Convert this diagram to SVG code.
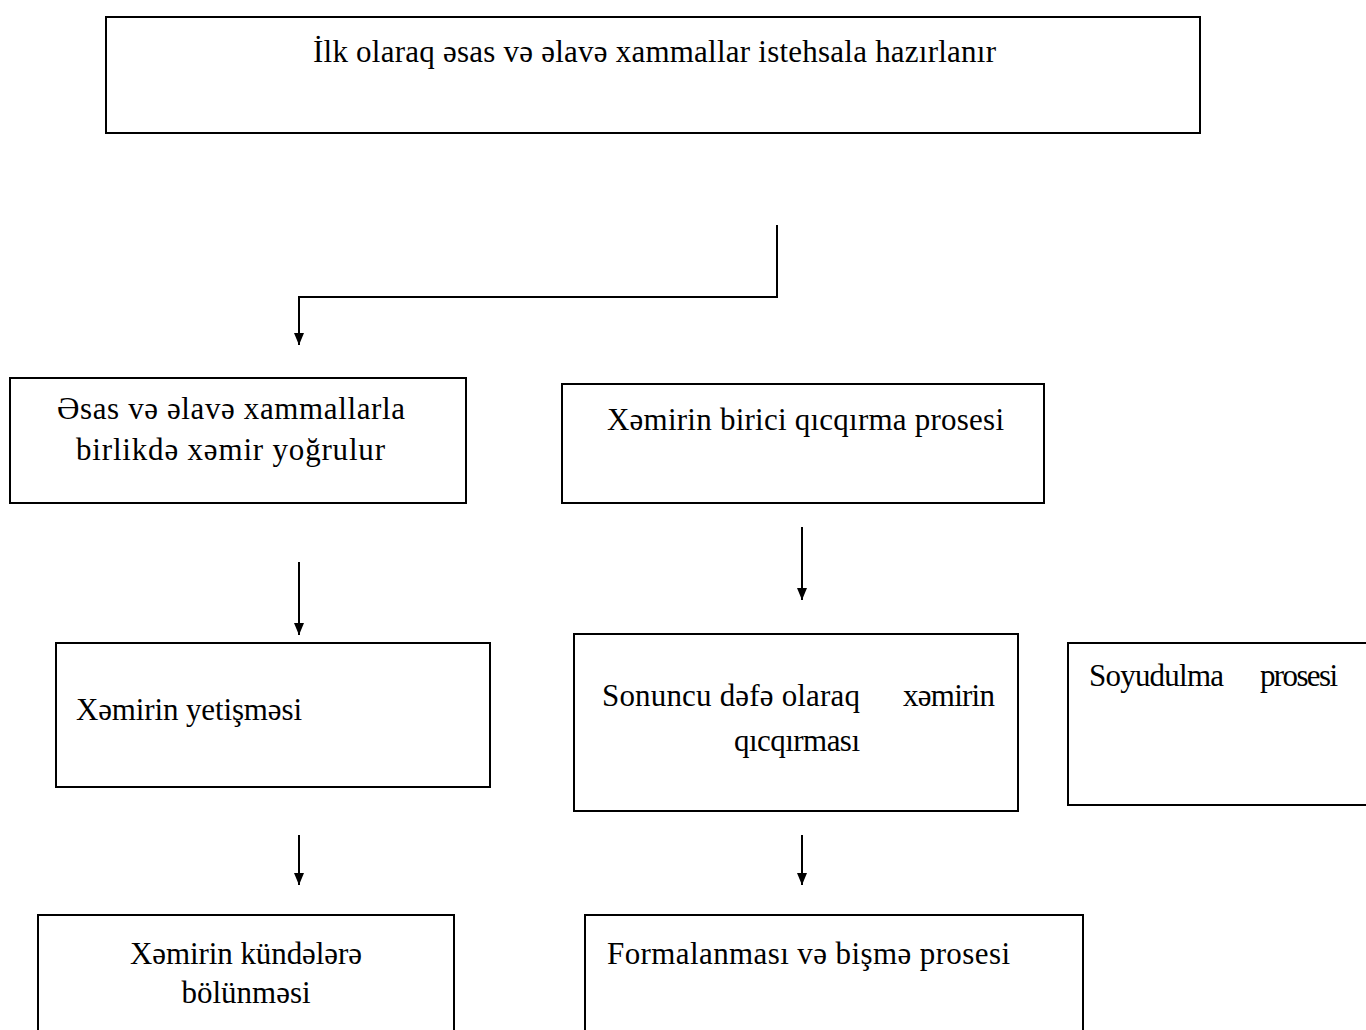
<svg xmlns="http://www.w3.org/2000/svg" width="1366" height="1030" viewBox="0 0 1366 1030">
<style>
.box{fill:#fff;stroke:#000;stroke-width:2}
.t{font-family:"Liberation Serif","Times New Roman",serif;font-size:31px;fill:#000}
.c{text-anchor:middle}
.con{fill:none;stroke:#000;stroke-width:2}
</style>
<defs>
<marker id="ah" viewBox="0 0 12 10" refX="12" refY="5" markerWidth="12" markerHeight="10" markerUnits="userSpaceOnUse" orient="auto">
<path d="M0,0 L12,5 L0,10 z" fill="#000"/>
</marker>
</defs>
<rect width="1366" height="1030" fill="#fff"/>
<g id="n1">
<rect class="box" x="106" y="17" width="1094" height="116"/>
<text class="t" x="313" y="62" textLength="683">İlk olaraq əsas və əlavə xammallar istehsala hazırlanır</text>
</g>
<g id="n2">
<rect class="box" x="10" y="378" width="456" height="125"/>
<text class="t" x="57" y="419" textLength="348">Əsas və əlavə xammallarla</text>
<text class="t" x="76" y="460" textLength="309">birlikdə xəmir yoğrulur</text>
</g>
<g id="n3">
<rect class="box" x="562" y="384" width="482" height="119"/>
<text class="t" x="607" y="430" textLength="397">Xəmirin birici qıcqırma prosesi</text>
</g>
<g id="n4">
<rect class="box" x="56" y="643" width="434" height="144"/>
<text class="t" x="76" y="720" textLength="226">Xəmirin yetişməsi</text>
</g>
<g id="n5">
<rect class="box" x="574" y="634" width="444" height="177"/>
<text class="t" y="706"><tspan x="602" textLength="258">Sonuncu dəfə olaraq</tspan><tspan x="903" textLength="92">xəmirin</tspan></text>
<text class="t" x="734" y="751" textLength="126">qıcqırması</text>
</g>
<g id="n6">
<rect class="box" x="1068" y="643" width="310" height="162"/>
<text class="t" y="686"><tspan x="1089" textLength="135">Soyudulma</tspan><tspan x="1260" textLength="78">prosesi</tspan></text>
</g>
<g id="n7">
<rect class="box" x="38" y="915" width="416" height="130"/>
<text class="t" x="130" y="964" textLength="232">Xəmirin kündələrə</text>
<text class="t c" x="246" y="1003">bölünməsi</text>
</g>
<g id="n8">
<rect class="box" x="585" y="915" width="498" height="130"/>
<text class="t" x="607" y="964" textLength="403">Formalanması və bişmə prosesi</text>
</g>
<g id="connectors">
<path class="con" d="M777,225 V297 H299 V345" marker-end="url(#ah)"/>
<path class="con" d="M299,562 V635" marker-end="url(#ah)"/>
<path class="con" d="M802,527 V600" marker-end="url(#ah)"/>
<path class="con" d="M299,835 V885" marker-end="url(#ah)"/>
<path class="con" d="M802,835 V885" marker-end="url(#ah)"/>
</g>
</svg>
